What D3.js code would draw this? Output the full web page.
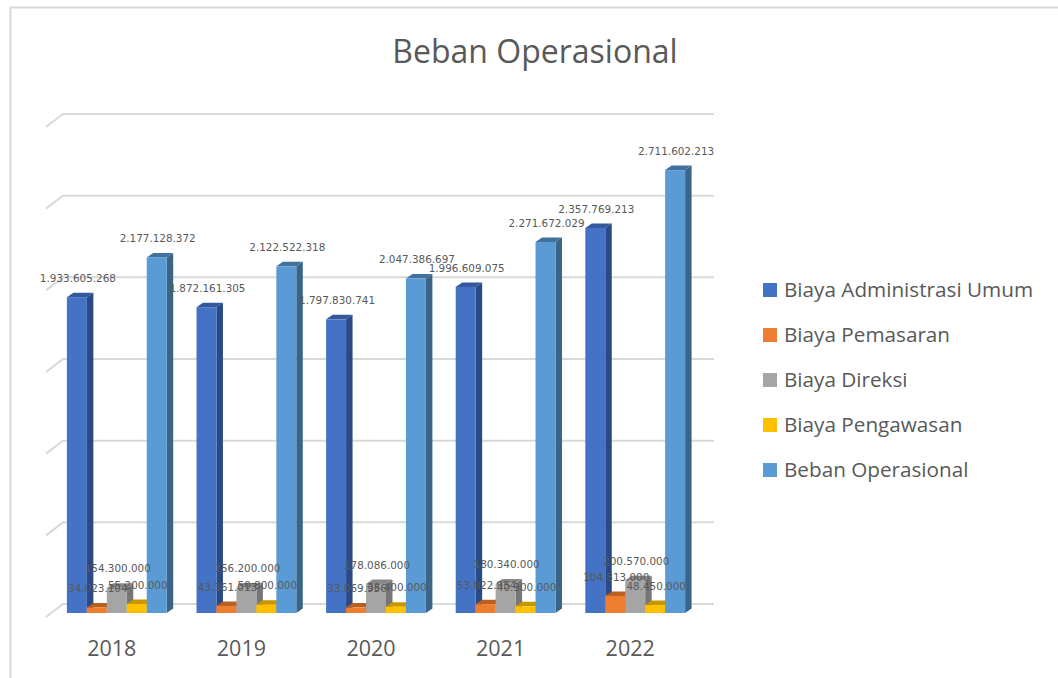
<!DOCTYPE html>
<html>
<head>
<meta charset="utf-8">
<script src="https://cdn.jsdelivr.net/npm/d3@7"></script>
<style>
    html, body { margin: 0; padding: 0; background: #fff; overflow: hidden; }
    text { font-family: "Open Sans", sans-serif; fill: #595959; }
    .data-label { font-family: "DejaVu Sans", sans-serif; }
</style>
</head>
<body>
<div id="chart"></div>
<script>
const years = ["2018", "2019", "2020", "2021", "2022"];
const seriesNames = ["Biaya Administrasi Umum", "Biaya Pemasaran", "Biaya Direksi", "Biaya Pengawasan", "Beban Operasional"];
const biayaAdministrasi = [1933605268, 1872161305, 1797830741, 1996609075, 2357769213];
const biayaPemasaran = [34023104, 43361013, 33069956, 53822954, 104813000];
const biayaDireksi = [154300000, 156200000, 178086000, 180340000, 200570000];
const biayaPengawasan = [55200000, 50800000, 38400000, 40900000, 48450000];
const bebanOperasional = [2177128372, 2122522318, 2047386697, 2271672029, 2711602213];
const gridValues = [0, 500000000, 1000000000, 1500000000, 2000000000, 2500000000, 3000000000];

const seriesValues = [biayaAdministrasi, biayaPemasaran, biayaDireksi, biayaPengawasan, bebanOperasional];

const width = 1058;
const height = 678;
const svg = d3.select("#chart")
    .append("svg")
    .attr("width", width)
    .attr("height", height);

/* SCALES */
const xGroup = d3.scaleBand()
    .domain(years)
    .range([52, 700])
    .paddingInner(0.23)
    .paddingOuter(0.115);

const xBar = d3.scaleBand()
    .domain(seriesNames)
    .range([0, xGroup.bandwidth()]);

const y = d3.scaleLinear()
    .domain([0, 3000000000])
    .range([613, 123]);

const color = d3.scaleOrdinal()
    .domain(seriesNames)
    .range(["#4472C4", "#ED7D31", "#A5A5A5", "#FFC000", "#5B9BD5"]);
const sideColor = d3.scaleOrdinal()
    .domain(seriesNames)
    .range(["#2A4A85", "#9E5A25", "#767676", "#B38A10", "#3A6587"]);
const topColor = d3.scaleOrdinal()
    .domain(seriesNames)
    .range(["#34589C", "#B9601F", "#888888", "#C89700", "#41729F"]);

/* the fake 3d depth of the bars and of the back wall */
const depthX = 6.5;
const depthY = 4.5;
const wallBack = 9;

/* PAGE FRAME (no right edge in the screenshot) */
svg.append("path")
    .attr("d", "M10.5,678V7.5H1058")
    .attr("fill", "none")
    .attr("stroke", "#d9d9d9")
    .attr("stroke-width", 2);

/* TITLE */
svg.append("text")
    .attr("x", 535)
    .attr("y", 63)
    .attr("text-anchor", "middle")
    .attr("font-size", 32)
    .text("Beban Operasional");

/* GRIDLINES */
const grid = svg.append("g")
    .attr("fill", "none")
    .attr("stroke", "#d9d9d9")
    .attr("stroke-width", 2);

grid.selectAll("path")
    .data(gridValues)
    .enter()
    .append("path")
        .attr("d", d => {
            const gy = y(d) - wallBack;
            return "M46," + (gy + 13) + "L63," + gy + "H714";
        });

/* BARS */
const bars = [];
years.forEach((year, i) => {
    seriesNames.forEach((name, j) => {
        bars.push({ year: year, name: name, value: seriesValues[j][i] });
    });
});

const barG = svg.append("g")
    .selectAll("g")
    .data(bars)
    .enter()
    .append("g");

function barLeft(d) { return xGroup(d.year) + xBar(d.name); }

barG.append("path")
    .attr("fill", d => sideColor(d.name))
    .attr("d", d => {
        const x1 = barLeft(d) + xBar.bandwidth();
        return "M" + x1 + "," + y(d.value) +
            "l" + depthX + "," + (-depthY) +
            "V" + (y(0) - depthY) +
            "l" + (-depthX) + "," + depthY + "Z";
    });

barG.append("path")
    .attr("fill", d => topColor(d.name))
    .attr("d", d => {
        return "M" + barLeft(d) + "," + y(d.value) +
            "l" + depthX + "," + (-depthY) +
            "h" + xBar.bandwidth() +
            "l" + (-depthX) + "," + depthY + "Z";
    });

barG.append("rect")
    .attr("x", d => barLeft(d))
    .attr("y", d => y(d.value))
    .attr("width", xBar.bandwidth())
    .attr("height", d => y(0) - y(d.value))
    .attr("fill", d => color(d.name));

/* DATA LABELS */
const labelFormat = d3.formatLocale({ decimal: ",", thousands: ".", grouping: [3], currency: ["", ""] }).format(",d");

svg.append("g")
    .selectAll("text")
    .data(bars)
    .enter()
    .append("text")
        .attr("class", "data-label")
        .attr("x", d => barLeft(d) + xBar.bandwidth() / 2 + 1)
        .attr("y", d => y(d.value) - 19)
        .attr("dy", "0.35em")
        .attr("text-anchor", "middle")
        .attr("font-size", 10.4)
        .text(d => labelFormat(d.value));

/* YEAR LABELS */
svg.append("g")
    .selectAll("text")
    .data(years)
    .enter()
    .append("text")
        .attr("x", d => xGroup(d) + xGroup.bandwidth() / 2 - 5)
        .attr("y", 656)
        .attr("text-anchor", "middle")
        .attr("font-size", 21.5)
        .text(d => d);

/* LEGEND */
const legendY = d3.scalePoint()
    .domain(seriesNames)
    .range([290, 470]);

const legend = svg.append("g")
    .selectAll("g")
    .data(seriesNames)
    .enter()
    .append("g")
        .attr("transform", d => "translate(763," + legendY(d) + ")");

legend.append("rect")
    .attr("y", -7)
    .attr("width", 14)
    .attr("height", 14)
    .attr("fill", d => color(d));

legend.append("text")
    .attr("x", 21)
    .attr("dy", "0.35em")
    .attr("font-size", 20.7)
    .text(d => d);
</script>
</body>
</html>
